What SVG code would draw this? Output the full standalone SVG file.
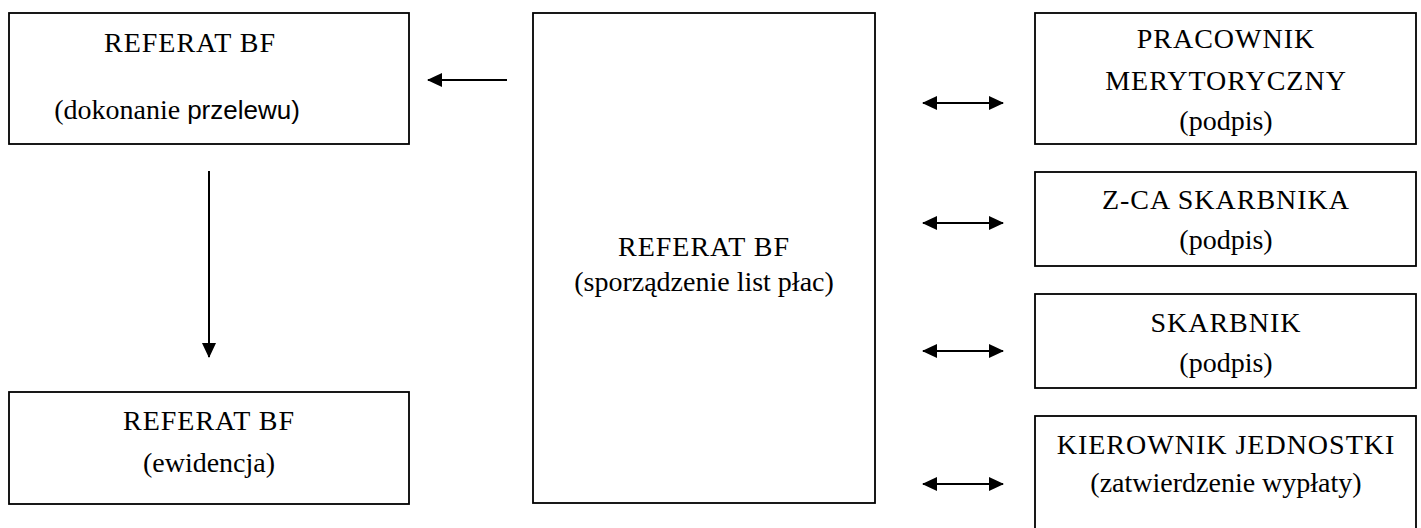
<svg xmlns="http://www.w3.org/2000/svg" width="1421" height="528" viewBox="0 0 1421 528">
  <style>
    .box { fill: #ffffff; stroke: #000000; stroke-width: 1.8; }
    .t { font-family: "Liberation Serif", "Times New Roman", serif; font-size: 28px; fill: #000000; text-anchor: middle; }
    .caps { letter-spacing: 1px; }
    .ts { font-family: "Liberation Sans", Arial, sans-serif; font-size: 26px; }
    .link { stroke: #000000; stroke-width: 2; fill: none; }
  </style>
  <defs>
    <marker id="head" viewBox="0 0 15 14" refX="14" refY="7" markerWidth="15" markerHeight="14" markerUnits="userSpaceOnUse" orient="auto-start-reverse">
      <path d="M0,0 L15,7 L0,14 Z" fill="#000000"/>
    </marker>
  </defs>
  <rect width="1421" height="528" fill="#ffffff"/>

  <g id="transfer">
    <rect class="box" x="9" y="13" width="400" height="131"/>
    <text class="t caps" x="190" y="52">REFERAT BF</text>
    <text class="t" x="177" y="119">(dokonanie <tspan class="ts">przelewu)</tspan></text>
  </g>

  <g id="records">
    <rect class="box" x="9" y="392" width="400" height="112"/>
    <text class="t caps" x="209" y="430">REFERAT BF</text>
    <text class="t" x="209" y="472">(ewidencja)</text>
  </g>

  <g id="payroll">
    <rect class="box" x="533" y="13" width="342" height="490"/>
    <text class="t caps" x="704" y="256">REFERAT BF</text>
    <text class="t" x="704" y="291">(sporządzenie list płac)</text>
  </g>

  <g id="clerk">
    <rect class="box" x="1035" y="13" width="381" height="131"/>
    <text class="t caps" x="1226" y="48">PRACOWNIK</text>
    <text class="t caps" x="1226" y="90">MERYTORYCZNY</text>
    <text class="t" x="1226" y="130">(podpis)</text>
  </g>

  <g id="deputy-treasurer">
    <rect class="box" x="1035" y="172" width="381" height="94"/>
    <text class="t caps" x="1226" y="209">Z-CA SKARBNIKA</text>
    <text class="t" x="1226" y="249">(podpis)</text>
  </g>

  <g id="treasurer">
    <rect class="box" x="1035" y="294" width="381" height="94"/>
    <text class="t caps" x="1226" y="332">SKARBNIK</text>
    <text class="t" x="1226" y="372">(podpis)</text>
  </g>

  <g id="head-of-unit">
    <rect class="box" x="1035" y="416" width="381" height="120"/>
    <text class="t caps" x="1226" y="454">KIEROWNIK JEDNOSTKI</text>
    <text class="t" x="1226" y="492">(zatwierdzenie wypłaty)</text>
  </g>

  <g id="connectors">
    <line class="link" x1="507" y1="80" x2="428" y2="80" marker-end="url(#head)"/>
    <line class="link" x1="209" y1="171" x2="209" y2="357" marker-end="url(#head)"/>
    <line class="link" x1="923" y1="103" x2="1003" y2="103" marker-start="url(#head)" marker-end="url(#head)"/>
    <line class="link" x1="923" y1="223" x2="1003" y2="223" marker-start="url(#head)" marker-end="url(#head)"/>
    <line class="link" x1="923" y1="351" x2="1003" y2="351" marker-start="url(#head)" marker-end="url(#head)"/>
    <line class="link" x1="923" y1="484" x2="1003" y2="484" marker-start="url(#head)" marker-end="url(#head)"/>
  </g>
</svg>
